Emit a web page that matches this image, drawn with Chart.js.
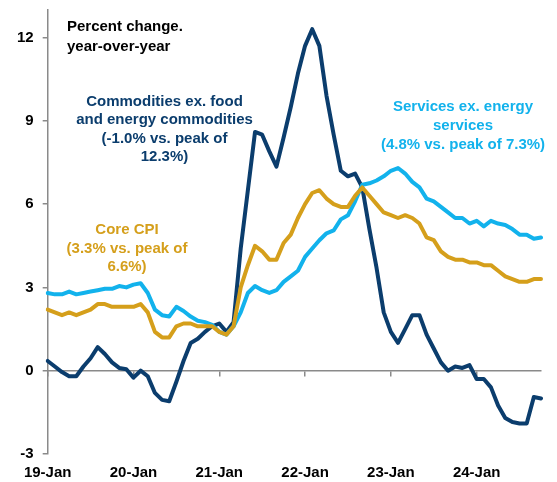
<!DOCTYPE html>
<html lang="en"><head><meta charset="utf-8">
<title>CPI components</title>
<script src="https://cdn.jsdelivr.net/npm/chart.js@4.4.0/dist/chart.umd.min.js"></script>
<style>
  html, body { margin: 0; padding: 0; background: #fff; }
  #wrap { width: 557px; height: 482px; }
</style>
</head>
<body>
<div id="wrap"><canvas id="chart" width="557" height="482"></canvas></div>
<script>
// monthly, Jan 2019 - Oct 2024
const years = ['19', '20', '21', '22', '23', '24'];
const monthNames = ['Jan','Feb','Mar','Apr','May','Jun','Jul','Aug','Sep','Oct','Nov','Dec'];
const yTicks = [-3, 0, 3, 6, 9, 12];

const coreCPI = [
  2.2, 2.1, 2.0, 2.1, 2.0, 2.1, 2.2, 2.4, 2.4, 2.3, 2.3, 2.3,
  2.3, 2.4, 2.1, 1.4, 1.2, 1.2, 1.6, 1.7, 1.7, 1.6, 1.6, 1.6,
  1.4, 1.3, 1.6, 3.0, 3.8, 4.5, 4.3, 4.0, 4.0, 4.6, 4.9, 5.5,
  6.0, 6.4, 6.5, 6.2, 6.0, 5.9, 5.9, 6.3, 6.6, 6.3, 6.0, 5.7,
  5.6, 5.5, 5.6, 5.5, 5.3, 4.8, 4.7, 4.3, 4.1, 4.0, 4.0, 3.9,
  3.9, 3.8, 3.8, 3.6, 3.4, 3.3, 3.2, 3.2, 3.3, 3.3
];
const services = [
  2.8, 2.75, 2.75, 2.85, 2.75, 2.8, 2.85, 2.9, 2.95, 2.95, 3.05, 3.0,
  3.1, 3.15, 2.8, 2.2, 2.0, 1.95, 2.3, 2.15, 1.95, 1.8, 1.75, 1.65,
  1.4, 1.3, 1.6, 2.1, 2.8, 3.05, 2.9, 2.8, 2.9, 3.2, 3.4, 3.6,
  4.1, 4.4, 4.7, 4.95, 5.05, 5.45, 5.6, 6.1, 6.7, 6.75, 6.85, 7.0,
  7.2, 7.3, 7.1, 6.8, 6.6, 6.2, 6.1, 5.9, 5.7, 5.5, 5.5, 5.3,
  5.4, 5.2, 5.4, 5.3, 5.25, 5.1, 4.9, 4.9, 4.75, 4.8
];
const commodities = [
  0.35, 0.15, -0.05, -0.2, -0.2, 0.15, 0.45, 0.85, 0.6, 0.3, 0.1, 0.05,
  -0.25, 0.0, -0.2, -0.8, -1.05, -1.1, -0.4, 0.35, 1.0, 1.15, 1.4, 1.6,
  1.7, 1.4, 1.75, 4.4, 6.5, 8.6, 8.5, 7.9, 7.35, 8.4, 9.5, 10.7,
  11.7, 12.3, 11.7, 9.9, 8.5, 7.2, 7.0, 7.1, 6.6, 5.1, 3.7, 2.1,
  1.4, 1.0, 1.5, 2.0, 2.0, 1.3, 0.8, 0.3, 0.0, 0.15, 0.1, 0.2,
  -0.3, -0.3, -0.6, -1.25, -1.7, -1.85, -1.9, -1.9, -0.95, -1.0
];

const navy = '#0b3d6d';
const gold = '#d59f1b';
const sky = '#12b2ec';
const axisGray = '#8a8a8a';

const labels = [];
years.forEach(y => monthNames.forEach(m => labels.push(y + '-' + m)));
labels.length = coreCPI.length;

// 注記テキスト
const notes = [
  { color: '#000', align: 'left', x: 67, y: [27, 46.5], lines: ['Percent change.', 'year-over-year'] },
  { color: navy, align: 'center', x: 164.5, y: [101.5, 120, 138.5, 157], lines: ['Commodities ex. food', 'and energy commodities', '(-1.0% vs. peak of', '12.3%)'] },
  { color: gold, align: 'center', x: 127, y: [230, 248.5, 267], lines: ['Core CPI', '(3.3% vs. peak of', '6.6%)'] },
  { color: sky, align: 'center', x: 463, y: [107, 125.5, 145], lines: ['Services ex. energy', 'services', '(4.8% vs. peak of 7.3%)'] },
];

const notePlugin = {
  id: 'notes',
  afterDraw(chart) {
    const c = chart.ctx;
    c.save();
    c.font = 'bold 15px "Liberation Sans", Arial, sans-serif';
    c.textBaseline = 'middle';
    notes.forEach(n => {
      c.fillStyle = n.color;
      c.textAlign = n.align;
      n.lines.forEach((t, i) => c.fillText(t, n.x, n.y[i]));
    });
    c.restore();
  }
};

const font = { family: '"Liberation Sans", Arial, sans-serif', size: 15, weight: 'bold' };
const line = (data, color) => ({
  data: data, borderColor: color, borderWidth: 4, pointRadius: 0, tension: 0,
  borderJoinStyle: 'round', borderCapStyle: 'round', fill: false
});

new Chart(document.getElementById('chart'), {
  type: 'line',
  data: {
    labels: labels,
    datasets: [line(coreCPI, gold), line(services, sky), line(commodities, navy)]
  },
  options: {
    responsive: false,
    animation: false,
    layout: { padding: { left: 8, right: 16, top: 0, bottom: -10 } },
    plugins: { legend: { display: false }, tooltip: { enabled: false } },
    scales: {
      x: {
        type: 'category',
        offset: false,
        border: { display: false },
        grid: { display: false, drawTicks: false },
        afterBuildTicks: s => { s.ticks = s.ticks.filter(t => t.value % 12 === 0); },
        ticks: {
          autoSkip: false, maxRotation: 0, padding: 10, color: '#000', font: font,
          callback: (v) => years[v / 12] + '-Jan'
        }
      },
      x0: {
        type: 'category',
        position: { y: 0 },
        offset: false,
        border: { display: true, color: axisGray, width: 1.5 },
        grid: { display: true, drawOnChartArea: false, drawTicks: true, tickLength: 5, color: axisGray, lineWidth: 1.5 },
        afterBuildTicks: s => { s.ticks = s.ticks.filter(t => t.value % 12 === 0); },
        ticks: { display: false, autoSkip: false }
      },
      y: {
        min: -3, max: 13,
        afterBuildTicks: s => { s.ticks = yTicks.map(v => ({ value: v })); },
        border: { display: true, color: axisGray, width: 1.5 },
        grid: { drawOnChartArea: false, drawTicks: true, tickLength: 5, color: axisGray, lineWidth: 1.5 },
        ticks: { padding: 9, color: '#000', font: Object.assign({}, font, { lineHeight: 0.1 }) }
      }
    }
  },
  plugins: [notePlugin]
});
</script>
</body></html>
